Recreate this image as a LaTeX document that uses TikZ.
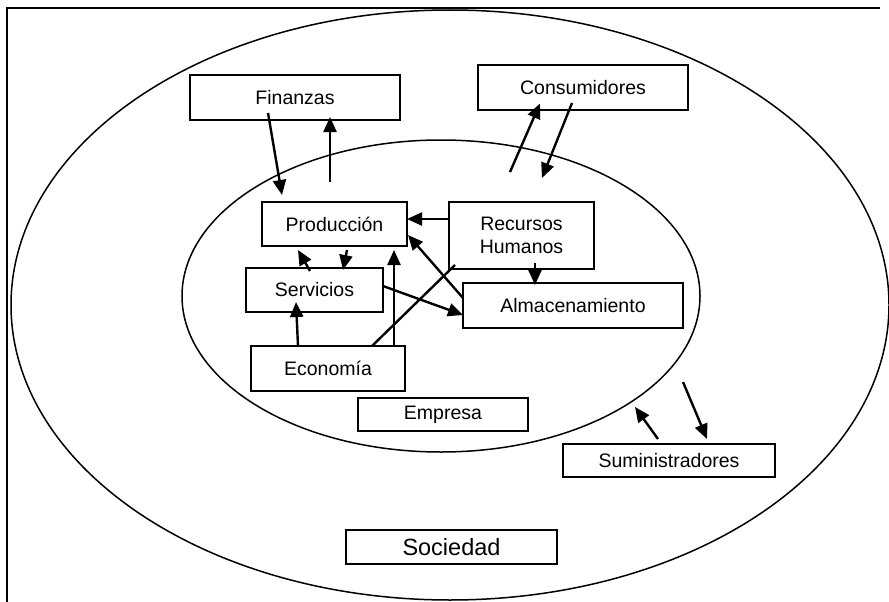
\documentclass[tikz,border=0pt]{standalone}
\usepackage{fontspec}
\setmainfont{Liberation Sans}
\usetikzlibrary{arrows.meta,calc}

\tikzset{
  box/.style={draw, line width=1.5pt, rectangle, inner sep=0pt, align=center,
    font=\fontsize{19.5}{22.5}\selectfont},
  ring/.style={draw, line width=1.5pt},
  flow/.style={line width=2.4pt, -{Triangle[length=15pt,width=13pt]}},
  link/.style={line width=2.4pt},
  frameline/.style={line width=2pt}
}

\begin{document}
\begin{tikzpicture}[x=1pt, y=-1pt]
  \useasboundingbox (0,0) rectangle (889,602);

  % page frame (top and left edges)
  \draw[frameline] (880,8) -- (7,8) -- (7,602);

  % society and company
  \draw[ring] (450,305) ellipse [x radius=439, y radius=295];
  \draw[ring] (441,296) ellipse [x radius=259, y radius=156];

  % outer actors
  \node[box, minimum width=210pt, minimum height=45pt] (fin)  at (295,97.5) {Finanzas};
  \node[box, minimum width=210pt, minimum height=45pt] (cons) at (583,87.5) {Consumidores};
  \node[box, minimum width=212pt, minimum height=33pt] (sum)  at (669,460.5) {Suministradores};
  \node[box, minimum width=211pt, minimum height=34pt,
        font=\fontsize{23.5}{26}\selectfont] (soc) at (451.5,547) {Sociedad};

  % company departments
  \node[box, minimum width=145pt, minimum height=44pt] (prod) at (334.5,224) {Producción};
  \node[box, minimum width=145pt, minimum height=67pt] (rrhh) at (521.5,235.5) {Recursos\\Humanos};
  \node[box, minimum width=137pt, minimum height=44pt] (serv) at (314.5,290) {Servicios};
  \node[box, minimum width=220pt, minimum height=45pt] (alm)  at (573,305.5) {Almacenamiento};
  \node[box, minimum width=154pt, minimum height=45pt] (eco)  at (328,368.5) {Economía};
  \node[box, minimum width=170pt, minimum height=33pt] (emp)  at (443,414.5) {Empresa};

  % free ends of the exchange arrows
  \coordinate (f1) at (330,182);
  \coordinate (c1) at (510,172);
  \coordinate (c2) at (542,178);
  \coordinate (s1) at (635,407);
  \coordinate (s2) at (683,382);

  % finance
  \draw[flow] ([shift={(-27,15.5)}]fin.center) -- ([shift={(-52.5,-29)}]prod.center);
  \draw[flow] (f1) -- ([shift={(35,19.5)}]fin.center);

  % consumers
  \draw[flow] (c1) -- ([shift={(-43,16)}]cons.center);
  \draw[flow] ([shift={(-11,15.5)}]cons.center) -- (c2);

  % suppliers
  \draw[flow] ([shift={(-11,-21.5)}]sum.center) -- (s1);
  \draw[flow] (s2) -- ([shift={(38,-21.5)}]sum.center);

  % internal flows
  \draw[flow] ([shift={(-73.5,-16.5)}]rrhh.center) -- ([shift={(72.5,-5)}]prod.center);
  \draw[flow] ([shift={(-110,-7.5)}]alm.center) -- ([shift={(73.5,11)}]prod.center);
  \draw[flow] ([shift={(12.5,26)}]prod.center) -- ([shift={(28.5,-20)}]serv.center);
  \draw[flow] ([shift={(-4.5,-19)}]serv.center) -- ([shift={(-36.5,26)}]prod.center);
  \draw[flow] ([shift={(66,-22.5)}]eco.center) -- ([shift={(59.5,26)}]prod.center);
  \draw[flow] ([shift={(-30,-22.5)}]eco.center) -- ([shift={(-18.5,12)}]serv.center);
  \draw[link] ([shift={(44,-22.5)}]eco.center) -- ([shift={(-66.5,29.5)}]rrhh.center);
  \draw[flow] ([shift={(68.5,-4)}]serv.center) -- ([shift={(-110,9.5)}]alm.center);
  \draw[flow] ([shift={(13.5,27.5)}]rrhh.center) -- ([shift={(-38,-20.5)}]alm.center);
\end{tikzpicture}
\end{document}
